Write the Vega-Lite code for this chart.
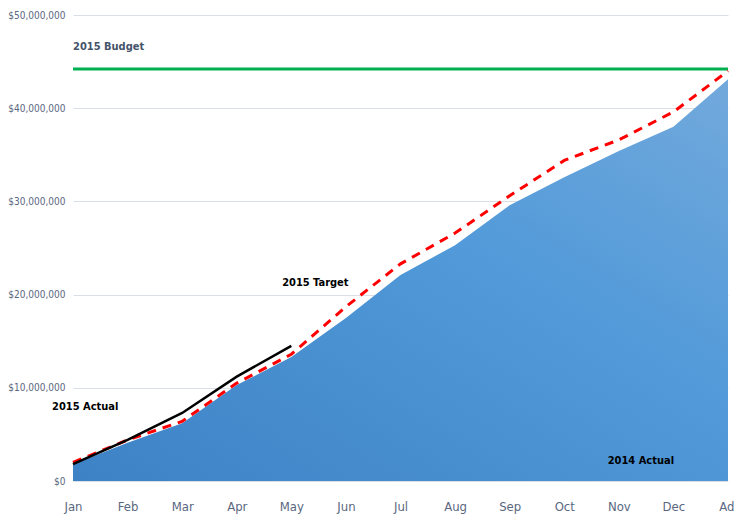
{
  "$schema": "https://vega.github.io/schema/vega-lite/v6.json",
  "autosize": "none",
  "width": 655,
  "height": 466,
  "padding": {"left": 73, "top": 15, "right": 6, "bottom": 37},
  "background": "white",
  "config": {
    "view": {"stroke": null},
    "font": "DejaVu Sans Condensed, sans-serif",
    "axis": {"labelFont": "DejaVu Sans Condensed, sans-serif", "labelFontSize": 12, "labelColor": "#5a6780", "ticks": false, "domain": false, "title": null}
  },
  "datasets": {
    "months": [
      {"month": "Jan", "a2014": 1800000, "target": 2000000, "a2015": 1800000},
      {"month": "Feb", "a2014": 4100000, "target": 4400000, "a2015": 4400000},
      {"month": "Mar", "a2014": 6200000, "target": 6400000, "a2015": 7300000},
      {"month": "Apr", "a2014": 10300000, "target": 10500000, "a2015": 11200000},
      {"month": "May", "a2014": 13300000, "target": 13600000, "a2015": 14500000},
      {"month": "Jun", "a2014": 17500000, "target": 18700000, "a2015": null},
      {"month": "Jul", "a2014": 22100000, "target": 23300000, "a2015": null},
      {"month": "Aug", "a2014": 25300000, "target": 26600000, "a2015": null},
      {"month": "Sep", "a2014": 29600000, "target": 30600000, "a2015": null},
      {"month": "Oct", "a2014": 32600000, "target": 34400000, "a2015": null},
      {"month": "Nov", "a2014": 35400000, "target": 36600000, "a2015": null},
      {"month": "Dec", "a2014": 38000000, "target": 39600000, "a2015": null},
      {"month": "Adj", "a2014": 43100000, "target": 44000000, "a2015": null}
    ]
  },
  "encoding": {
    "x": {
      "field": "month", "type": "ordinal",
      "scale": {"type": "point", "padding": 0, "domain": ["Jan","Feb","Mar","Apr","May","Jun","Jul","Aug","Sep","Oct","Nov","Dec","Adj"]},
      "axis": {"labelAngle": 0, "labelPadding": 19, "grid": false, "labelFontSize": 13}
    }
  },
  "layer": [
    {
      "data": {"name": "months"},
      "mark": {
        "type": "area",
        "fill": {
          "gradient": "linear", "x1": 0, "y1": 1, "x2": 1, "y2": 0,
          "stops": [{"offset": 0, "color": "#3d82c5"}, {"offset": 0.6, "color": "#529ad9"}, {"offset": 1, "color": "#72a9dc"}]
        }
      },
      "encoding": {
        "y": {
          "field": "a2014", "type": "quantitative",
          "scale": {"domain": [0, 50000000], "nice": false},
          "axis": {"values": [0, 10000000, 20000000, 30000000, 40000000, 50000000], "format": "$,.0f", "grid": true, "gridColor": "#d9dee7", "gridWidth": 1, "labelPadding": 8, "labelFontSize": 10}
        }
      }
    },
    {
      "data": {"values": [{"budget": 44200000}]},
      "mark": {"type": "rule", "color": "#00b050", "strokeWidth": 3},
      "encoding": {"y": {"field": "budget", "type": "quantitative"}, "x": null}
    },
    {
      "data": {"name": "months"},
      "mark": {"type": "line", "color": "#ff0000", "strokeWidth": 3, "strokeDash": [9, 7]},
      "encoding": {"y": {"field": "target", "type": "quantitative"}}
    },
    {
      "data": {"name": "months"},
      "mark": {"type": "line", "color": "#000000", "strokeWidth": 2.5},
      "encoding": {"y": {"field": "a2015", "type": "quantitative"}}
    },
    {
      "data": {"values": [{"label": "2015 Budget", "month": "Jan", "value": 46600000}]},
      "mark": {"type": "text", "align": "left", "baseline": "middle", "fontWeight": "bold", "fontSize": 11, "color": "#44546a", "dx": 0},
      "encoding": {"y": {"field": "value", "type": "quantitative"}, "text": {"field": "label"}}
    },
    {
      "data": {"values": [{"label": "2015 Target", "month": "May", "value": 21200000}]},
      "mark": {"type": "text", "align": "center", "baseline": "middle", "fontWeight": "bold", "fontSize": 11, "color": "#000000", "dx": 24},
      "encoding": {"y": {"field": "value", "type": "quantitative"}, "text": {"field": "label"}}
    },
    {
      "data": {"values": [{"label": "2015 Actual", "month": "Jan", "value": 7900000}]},
      "mark": {"type": "text", "align": "left", "baseline": "middle", "fontWeight": "bold", "fontSize": 11, "color": "#000000", "dx": -21},
      "encoding": {"y": {"field": "value", "type": "quantitative"}, "text": {"field": "label"}}
    },
    {
      "data": {"values": [{"label": "2014 Actual", "month": "Nov", "value": 2150000}]},
      "mark": {"type": "text", "align": "center", "baseline": "middle", "fontWeight": "bold", "fontSize": 11, "color": "#000000", "dx": 22},
      "encoding": {"y": {"field": "value", "type": "quantitative"}, "text": {"field": "label"}}
    }
  ]
}
